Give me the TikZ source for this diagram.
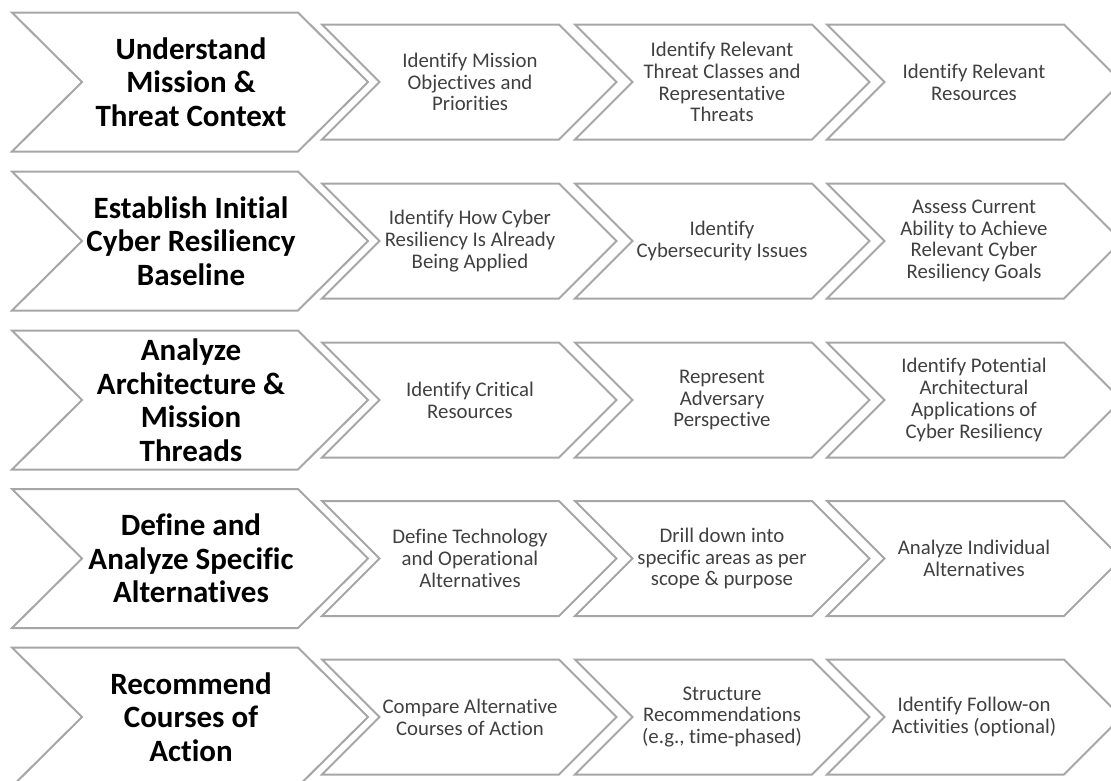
\documentclass[tikz,border=0pt]{standalone}
\usepackage{fontspec}
\setmainfont{Carlito}[Ligatures=NoCommon]
\definecolor{edgegray}{HTML}{A6A6A6}
\definecolor{textgray}{HTML}{404040}
\tikzset{
  chev/.style={draw=edgegray, line width=2pt, fill=white, line join=miter},
  bigtext/.style={font=\fontsize{31}{33.5}\selectfont\bfseries, text=black, align=center, inner sep=0pt},
  smalltext/.style={font=\fontsize{20.8}{21.8}\selectfont, text=textgray, align=center, inner sep=0pt}
}
\begin{document}
\begin{tikzpicture}[x=1pt,y=-1pt]
\useasboundingbox (0,0) rectangle (1111,780);
\clip (0,0) rectangle (1111,780);
\foreach \r/\c in {1/82,2/241,3/400,4/558.5,5/717}{
  \draw[chev] (12,\c-69.5) -- (298,\c-69.5) -- (368,\c) -- (298,\c+69.5) -- (12,\c+69.5) -- (82,\c) -- cycle;
  \foreach \L in {322,575,827}{
    \draw[chev] (\L,\c-57.5) -- (\L+237,\c-57.5) -- (\L+294.5,\c) -- (\L+237,\c+57.5) -- (\L,\c+57.5) -- (\L+57.5,\c) -- cycle;
  }
}
% row 1
\node[bigtext] (b1) at (191,82) {Understand\\Mission \&\\Threat Context};
\node[smalltext] (s11) at (470,82) {Identify Mission\\Objectives and\\Priorities};
\node[smalltext] (s12) at (722,82) {Identify Relevant\\Threat Classes and\\Representative\\Threats};
\node[smalltext] (s13) at (974,82) {Identify Relevant\\Resources};
% row 2
\node[bigtext] (b2) at (191,241) {Establish Initial\\Cyber Resiliency\\Baseline};
\node[smalltext] (s21) at (470,241) {Identify How Cyber\\Resiliency Is Already\\Being Applied};
\node[smalltext] (s22) at (722,241) {Identify\\Cybersecurity Issues};
\node[smalltext] (s23) at (974,241) {Assess Current\\Ability to Achieve\\Relevant Cyber\\Resiliency Goals};
% row 3
\node[bigtext] (b3) at (191,400) {Analyze\\Architecture \&\\Mission\\Threads};
\node[smalltext] (s31) at (470,400) {Identify Critical\\Resources};
\node[smalltext] (s32) at (722,400) {Represent\\Adversary\\Perspective};
\node[smalltext] (s33) at (974,400) {Identify Potential\\Architectural\\Applications of\\Cyber Resiliency};
% row 4
\node[bigtext] (b4) at (191,558.5) {Define and\\Analyze Specific\\Alternatives};
\node[smalltext] (s41) at (470,558.5) {Define Technology\\and Operational\\Alternatives};
\node[smalltext] (s42) at (722,558.5) {Drill down into\\specific areas as per\\scope \& purpose};
\node[smalltext] (s43) at (974,558.5) {Analyze Individual\\Alternatives};
% row 5
\node[bigtext] (b5) at (191,717) {Recommend\\Courses of\\Action};
\node[smalltext] (s51) at (470,717) {Compare Alternative\\Courses of Action};
\node[smalltext] (s52) at (722,717) {Structure\\Recommendations\\(e.g., time-phased)};
\node[smalltext] (s53) at (974,717) {Identify Follow-on\\Activities (optional)};
\end{tikzpicture}
\end{document}
